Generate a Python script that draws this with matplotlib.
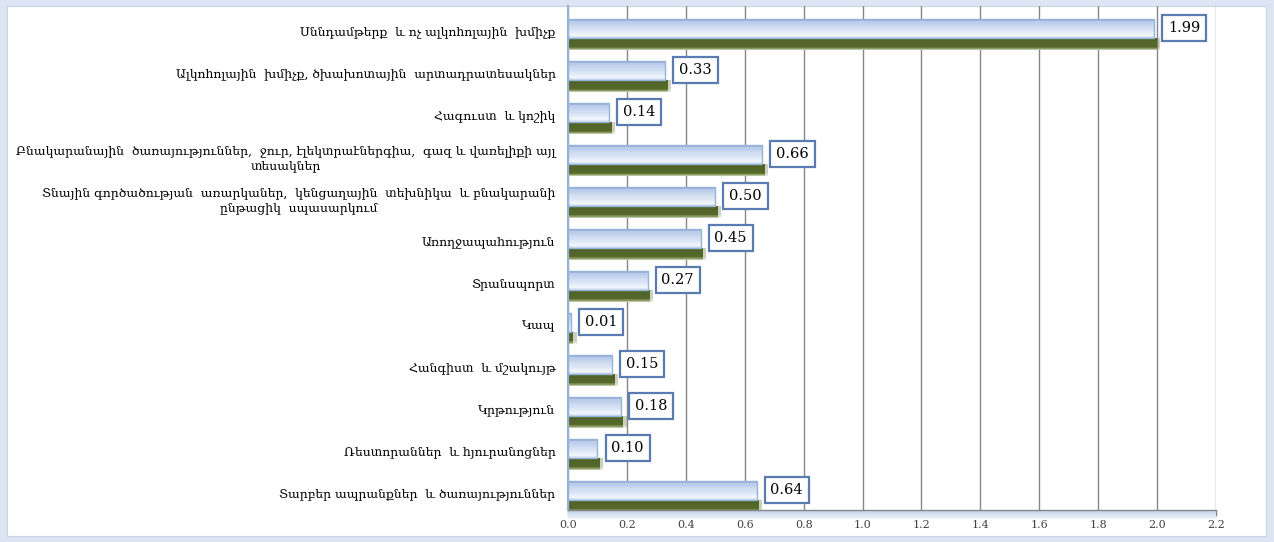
import matplotlib
matplotlib.use('Agg')
import matplotlib.pyplot as plt
import numpy as np
from matplotlib.patches import Rectangle
from matplotlib.colors import to_rgb

categories = [
    "Սննդամթերք  և ոչ ալկոհոլային  խմիչք",
    "Ալկոհոլային  խմիչք, ծխախոտային  արտադրատեսակներ",
    "Հագուստ  և կոշիկ",
    "Բնակարանային  ծառայություններ,  ջուր, էլեկտրաէներգիա,  գազ և վառելիքի այլ\nտեսակներ",
    "Տնային գործածության  առարկաներ,  կենցաղային  տեխնիկա  և բնակարանի\nընթացիկ  սպասարկում",
    "Առողջապահություն",
    "Տրանսպորտ",
    "Կապ",
    "Հանգիստ  և մշակույթ",
    "Կրթություն",
    "Ռեստորաններ  և հյուրանոցներ",
    "Տարբեր ապրանքներ  և ծառայություններ",
]
values = [1.99, 0.33, 0.14, 0.66, 0.50, 0.45, 0.27, 0.01, 0.15, 0.18, 0.10, 0.64]
x_ticks = [0.0, 0.2, 0.4, 0.6, 0.8, 1.0, 1.2, 1.4, 1.6, 1.8, 2.0, 2.2]

plt.rcParams['font.family'] = ['DejaVu Serif', 'DejaVu Sans']

W, H = 1274, 542
fig = plt.figure(figsize=(W / 100, H / 100), dpi=100, facecolor='#dce6f2')
fig.patches.append(Rectangle((7 / W, 1 - 536 / H), (1266 - 7) / W, (536 - 6) / H,
                             transform=fig.transFigure, facecolor='white',
                             edgecolor='#c6d5ea', lw=0.8, zorder=-10))

ax = fig.add_axes([568 / W, 1 - 510 / H, (1216 - 568) / W, (510 - 6) / H])
ax.set_zorder(5)
ax.set_facecolor('none')
ax.set_xlim(0, 2.2)
ax.set_ylim(11.43, -0.571)


def interp(stops, t):
    ts = [s[0] for s in stops]
    cs = np.array([to_rgb(s[1]) for s in stops])
    return tuple(np.interp(t, ts, cs[:, k]) for k in range(3))


light_stops = [(0, '#7d9488'), (0.07, '#93acd6'), (0.16, '#bccdea'), (0.5, '#d3dff2'),
               (0.85, '#f0f4fb'), (1, '#c4d3ec')]
dark_stops = [(0, '#4f6226'), (0.72, '#56692b'), (0.9, '#86965d'), (1, '#d5dcc4')]

N = 16
y_pos = np.arange(len(categories))
for i, v in zip(y_pos, values):
    # shadow / dark lower part
    top, bot = i + 0.19, i + 0.47
    h = (bot - top) / N
    for k in range(N):
        t = (k + 0.5) / N
        c = interp(dark_stops, t)
        ax.barh(top + (k + 0.5) * h, v + 0.02, height=h, left=0,
                color=c, alpha=0.3, lw=0, zorder=2)
        ax.barh(top + (k + 0.5) * h, v + 0.008, height=h, left=0,
                color=c, lw=0, zorder=2)
    # light upper part
    top, bot = i - 0.26, i + 0.19
    h = (bot - top) / N
    for k in range(N):
        t = (k + 0.5) / N
        ax.barh(top + (k + 0.5) * h, v, height=h, left=0,
                color=interp(light_stops, t), lw=0, zorder=3)
    ax.barh((top + bot) / 2, v, height=bot - top, left=0, facecolor='none',
            edgecolor='#95b3d7', lw=1.0, zorder=4)

    ax.annotate(f'{v:.2f}', xy=(v, i - 0.05), xytext=(10, 0), textcoords='offset points',
                ha='left', va='center', fontsize=10.5, color='black', zorder=6,
                bbox=dict(boxstyle='square,pad=0.4', fc='white',
                          ec='#5b7cb0', lw=1.6))

ax.set_xticks(x_ticks)
ax.set_xticklabels([f'{t:.1f}' for t in x_ticks])
ax.set_yticks(y_pos)
ax.set_yticklabels(categories)
for lab in ax.get_yticklabels():
    lab.set_multialignment('center')

ax.tick_params(axis='y', length=0, pad=9, labelsize=8.9, labelcolor='black')
ax.tick_params(axis='x', length=4, width=1, color='#868686', pad=3,
               labelsize=8, labelcolor='#404040')

ax.xaxis.grid(True, color='#868686', lw=1)
ax.set_axisbelow(True)
for s in ['top', 'right']:
    ax.spines[s].set_visible(False)
ax.spines['left'].set_color('#95b3d7')
ax.spines['left'].set_linewidth(1.5)
ax.spines['bottom'].set_color('#868686')
ax.spines['bottom'].set_linewidth(1)

# floor band under axis
M = 8
for k in range(M):
    t = k / M
    c = interp([(0, '#c5d5ec'), (1, '#f4f7fc')], t)
    ax.add_patch(Rectangle((0, -0.002 - (k + 1) * 0.002), 1, 0.002,
                           transform=ax.transAxes, facecolor=c, lw=0,
                           clip_on=False, zorder=1))

fig.savefig('out.png', dpi=100, facecolor=fig.get_facecolor())
